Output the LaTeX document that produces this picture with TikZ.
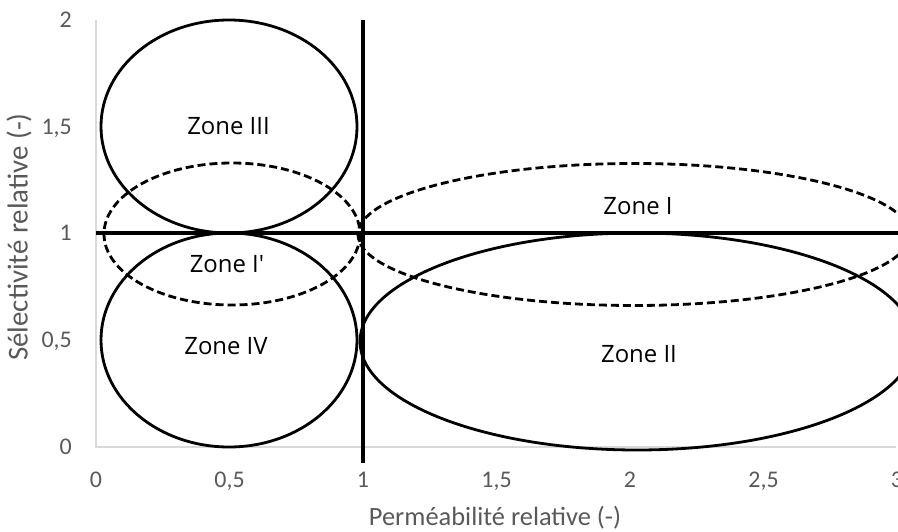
\documentclass[tikz,border=0pt]{standalone}
\usepackage{fontspec}
\setmainfont{Carlito}
\newfontfamily\zonefont{Open Sans}
\definecolor{axgray}{HTML}{D9D9D9}
\definecolor{txtgray}{HTML}{595959}
\tikzset{
  axisline/.style={draw=axgray, line width=1.4bp},
  thickline/.style={draw=black, line width=3.6bp},
  zoneshape/.style={draw=black, line width=2.8bp},
  dashzone/.style={draw=black, line width=2.8bp, dash pattern=on 8bp off 4bp},
  ticklbl/.style={text=txtgray, font=\fontsize{24}{28}\selectfont, inner sep=0pt},
  axtitle/.style={text=txtgray, font=\fontsize{26.5}{30}\selectfont, inner sep=0pt},
  ytitle/.style={text=txtgray, font=\fontsize{29}{32}\selectfont, inner sep=0pt},
  zonelbl/.style={text=black, font=\zonefont\fontsize{24}{28}\selectfont, inner sep=0pt, anchor=base}
}
\begin{document}
\begin{tikzpicture}[x=1bp,y=-1bp]
\useasboundingbox (0,0) rectangle (898,532);
\clip (0,0) rectangle (898,532);
% axes
\coordinate (o) at (96,447);
\coordinate (ytop) at (96,20);
\coordinate (xend) at (896,447);
\draw[axisline] (ytop) -- (o) -- (xend);
% y tick labels
\node[ticklbl, anchor=base east] (y2) at (72,27.5) {2};
\node[ticklbl, anchor=base east] (y15) at (72,134.5) {1,5};
\node[ticklbl, anchor=base east] (y1) at (72,240.5) {1};
\node[ticklbl, anchor=base east] (y05) at (72,347.5) {0,5};
\node[ticklbl, anchor=base east] (y0) at (72,454.5) {0};
% x tick labels
\node[ticklbl, anchor=base] (x0) at (96,487) {0};
\node[ticklbl, anchor=base] (x05) at (229.5,487) {0,5};
\node[ticklbl, anchor=base] (x1) at (363,487) {1};
\node[ticklbl, anchor=base] (x15) at (496.5,487) {1,5};
\node[ticklbl, anchor=base] (x2) at (630,487) {2};
\node[ticklbl, anchor=base] (x25) at (763.5,487) {2,5};
\node[ticklbl, anchor=base] (x3) at (897,487) {3};
% axis titles
\node[axtitle, anchor=base] (xt) at (495,525) {Perméabilité relative (-)};
\node[ytitle, rotate=90] (yt) at (19,237) {Sélectivité relative (-)};
% zones
\draw[zoneshape] (229,126.5) ellipse [x radius=128, y radius=106.5];
\draw[zoneshape] (229,340) ellipse [x radius=128, y radius=107];
\draw[zoneshape] (637,341.5) ellipse [x radius=277, y radius=108.5];
\draw[dashzone] (232,234) ellipse [x radius=128, y radius=71];
\draw[dashzone] (634,234.5) ellipse [x radius=276, y radius=71];
% thick reference lines
\coordinate (vtop) at (363,20);
\coordinate (vbot) at (363,463);
\coordinate (hl) at (96,233);
\coordinate (hr) at (898,233);
\draw[thickline] (vtop) -- (vbot);
\draw[thickline] (hl) -- (hr);
% zone labels
\node[zonelbl] (z3) at (228.5,135) {Zone III};
\node[zonelbl] (z1p) at (227,273) {Zone I'};
\node[zonelbl] (z4) at (226,355) {Zone IV};
\node[zonelbl] (z2) at (639,362) {Zone II};
\node[zonelbl] (z1) at (638,215) {Zone I};
\end{tikzpicture}
\end{document}
